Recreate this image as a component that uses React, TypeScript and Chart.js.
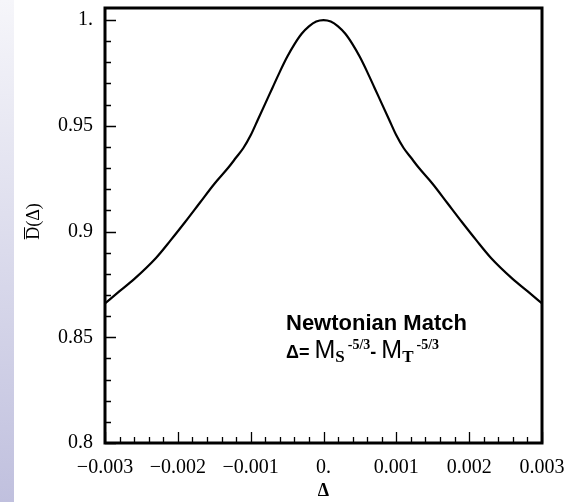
import React, { useEffect, useRef } from 'react';
import { Chart, registerables } from 'chart.js';

Chart.register(...registerables);

// Δ values (x) and D̄(Δ) values (y)
const deltaValues = [
  -0.003, -0.0028, -0.0026, -0.0023, -0.0021, -0.0019, -0.0017, -0.0015, -0.0013, -0.0012,
  -0.0011, -0.001, -0.0009, -0.0008, -0.0007, -0.0006, -0.0005, -0.0004, -0.0003, -0.0002,
  -0.0001, 0,
  0.0001, 0.0002, 0.0003, 0.0004, 0.0005, 0.0006, 0.0007, 0.0008, 0.0009, 0.001,
  0.0011, 0.0012, 0.0013, 0.0015, 0.0017, 0.0019, 0.0021, 0.0023, 0.0026, 0.0028, 0.003,
];
const dValues = [
  0.866, 0.8718, 0.8775, 0.8875, 0.8958, 0.9045, 0.9135, 0.9225, 0.9305, 0.935,
  0.9395, 0.9455, 0.953, 0.9605, 0.968, 0.9755, 0.9825, 0.9885, 0.9935, 0.997,
  0.9993, 1.0,
  0.9993, 0.997, 0.9935, 0.9885, 0.9825, 0.9755, 0.968, 0.9605, 0.953, 0.9455,
  0.9395, 0.935, 0.9305, 0.9225, 0.9135, 0.9045, 0.8958, 0.8875, 0.8775, 0.8718, 0.866,
];

const xTickValues = [-0.003, -0.002, -0.001, 0, 0.001, 0.002, 0.003];
const xTickLabels = ['\u22120.003', '\u22120.002', '\u22120.001', '0.', '0.001', '0.002', '0.003'];
const yTickValues = [0.8, 0.85, 0.9, 0.95, 1.0];
const yTickLabels = ['0.8', '0.85', '0.9', '0.95', '1.'];

const X_MIN = -0.003;
const X_MAX = 0.003;
const Y_MIN = 0.8;
const Y_MAX = 1.0057;
const X_MINOR_STEP = 0.0002;
const Y_MINOR_STEP = 0.01;

const serif = '"Liberation Serif", "Times New Roman", serif';
const sans = '"Liberation Sans", Arial, sans-serif';

const labelFor = (vals: number[], labels: string[], v: number) => {
  const i = vals.findIndex((t) => Math.abs(t - v) < 1e-9);
  return i >= 0 ? labels[i] : '';
};

const framePlugin = {
  id: 'frameTicks',
  afterDatasetsDraw(chart: any) {
    const { ctx, chartArea, scales } = chart;
    const { left, right, top, bottom } = chartArea;
    const xs = scales.x;
    const ys = scales.y;
    ctx.save();
    ctx.strokeStyle = '#000';
    ctx.lineWidth = 1.3;
    ctx.beginPath();
    const nY = Math.round((1.0 - Y_MIN) / Y_MINOR_STEP);
    for (let i = 0; i <= nY; i++) {
      const v = Y_MIN + i * Y_MINOR_STEP;
      const py = Math.round(ys.getPixelForValue(v)) + 0.5;
      const major = i % 5 === 0;
      ctx.moveTo(left, py);
      ctx.lineTo(left + (major ? 11 : 6), py);
    }
    const nX = Math.round((X_MAX - X_MIN) / X_MINOR_STEP);
    for (let i = 0; i <= nX; i++) {
      const v = X_MIN + i * X_MINOR_STEP;
      const px = Math.round(xs.getPixelForValue(v)) + 0.5;
      const major = i % 5 === 0;
      ctx.moveTo(px, bottom);
      ctx.lineTo(px, bottom - (major ? 11 : 6));
    }
    ctx.stroke();
    ctx.lineWidth = 3;
    ctx.strokeRect(left, top, right - left, bottom - top);

    // y axis title D̄(Δ)
    ctx.fillStyle = '#000';
    ctx.font = `18px ${serif}`;
    ctx.translate(39, (top + bottom) / 2 - 4);
    ctx.rotate(-Math.PI / 2);
    const text = 'D(\u0394)';
    const w = ctx.measureText(text).width;
    const wD = ctx.measureText('D').width;
    ctx.textBaseline = 'alphabetic';
    ctx.textAlign = 'left';
    const x0 = -w / 2;
    ctx.fillText(text, x0, 0);
    ctx.lineWidth = 1;
    ctx.beginPath();
    ctx.moveTo(x0 + 0.5, -14.5);
    ctx.lineTo(x0 + wD - 0.5, -14.5);
    ctx.stroke();
    ctx.restore();
  },
};

export default function App() {
  const canvasRef = useRef<HTMLCanvasElement | null>(null);

  useEffect(() => {
    document.body.style.margin = '0';
    const canvas = canvasRef.current;
    if (!canvas) return;
    const points = deltaValues.map((x, i) => ({ x, y: dValues[i] }));
    const chart = new Chart(canvas, {
      type: 'scatter',
      data: {
        datasets: [
          {
            data: points,
            showLine: true,
            borderColor: '#000',
            borderWidth: 2.2,
            pointRadius: 0,
            cubicInterpolationMode: 'monotone',
          },
        ],
      },
      options: {
        animation: false,
        responsive: false,
        maintainAspectRatio: false,
        layout: { padding: { left: 0, top: 8, right: 38, bottom: 0 } },
        plugins: { legend: { display: false }, tooltip: { enabled: false } },
        scales: {
          x: {
            type: 'linear',
            min: X_MIN,
            max: X_MAX,
            afterBuildTicks: (scale: any) => {
              scale.ticks = xTickValues.map((value) => ({ value }));
            },
            afterFit: (scale: any) => {
              scale.height = 502 - 443;
              scale.paddingLeft = 0;
              scale.paddingRight = 0;
            },
            ticks: {
              autoSkip: false,
              maxRotation: 0,
              color: '#000',
              padding: 15,
              font: { family: serif, size: 20, lineHeight: 1 },
              callback: (v: any) => labelFor(xTickValues, xTickLabels, Number(v)),
            },
            grid: { display: false, drawTicks: false },
            border: { display: false },
            title: {
              display: true,
              text: '\u0394',
              color: '#000',
              font: { family: serif, size: 18, weight: 'bold' },
              padding: { top: 0, bottom: 0 },
            },
          },
          y: {
            type: 'linear',
            min: Y_MIN,
            max: Y_MAX,
            afterBuildTicks: (scale: any) => {
              scale.ticks = yTickValues.map((value) => ({ value }));
            },
            afterFit: (scale: any) => {
              scale.width = 105;
              scale.paddingTop = 0;
              scale.paddingBottom = 0;
            },
            ticks: {
              autoSkip: false,
              color: '#000',
              padding: 12,
              font: { family: serif, size: 20, lineHeight: 1 },
              callback: (v: any) => labelFor(yTickValues, yTickLabels, Number(v)),
            },
            grid: { display: false, drawTicks: false },
            border: { display: false },
          },
        },
      },
      plugins: [framePlugin],
    } as any);
    return () => chart.destroy();
  }, []);

  const supStyle: React.CSSProperties = {
    fontFamily: serif,
    fontWeight: 'bold',
    fontSize: 14,
    position: 'relative',
    top: -9,
    marginLeft: 3,
  };
  const subStyle: React.CSSProperties = {
    fontFamily: serif,
    fontWeight: 'bold',
    fontSize: 17,
    position: 'relative',
    top: 4,
  };

  return (
    <div style={{ position: 'absolute', left: 0, top: 0, width: 580, height: 502, background: '#fff' }}>
      <div
        style={{
          position: 'absolute',
          left: 0,
          top: 0,
          width: 14,
          height: 502,
          background: 'linear-gradient(to bottom, #f6f6fa, #c0c0de)',
        }}
      />
      <canvas ref={canvasRef} width={580} height={502} style={{ position: 'absolute', left: 0, top: 0 }} />
      <div
        style={{
          position: 'absolute',
          left: 286,
          top: 312,
          color: '#000',
          whiteSpace: 'nowrap',
          lineHeight: 1,
        }}
      >
        <div style={{ fontFamily: sans, fontWeight: 'bold', fontSize: 22 }}>Newtonian Match</div>
        <div style={{ marginTop: 3, fontFamily: sans }}>
          <span style={{ fontWeight: 'bold', fontSize: 18 }}>{'\u0394= '}</span>
          <span style={{ fontSize: 25 }}>M</span>
          <span style={subStyle}>S</span>
          <span style={supStyle}>-5/3</span>
          <span style={{ fontWeight: 'bold', fontSize: 18 }}>- </span>
          <span style={{ fontSize: 25 }}>M</span>
          <span style={subStyle}>T</span>
          <span style={supStyle}>-5/3</span>
        </div>
      </div>
    </div>
  );
}
